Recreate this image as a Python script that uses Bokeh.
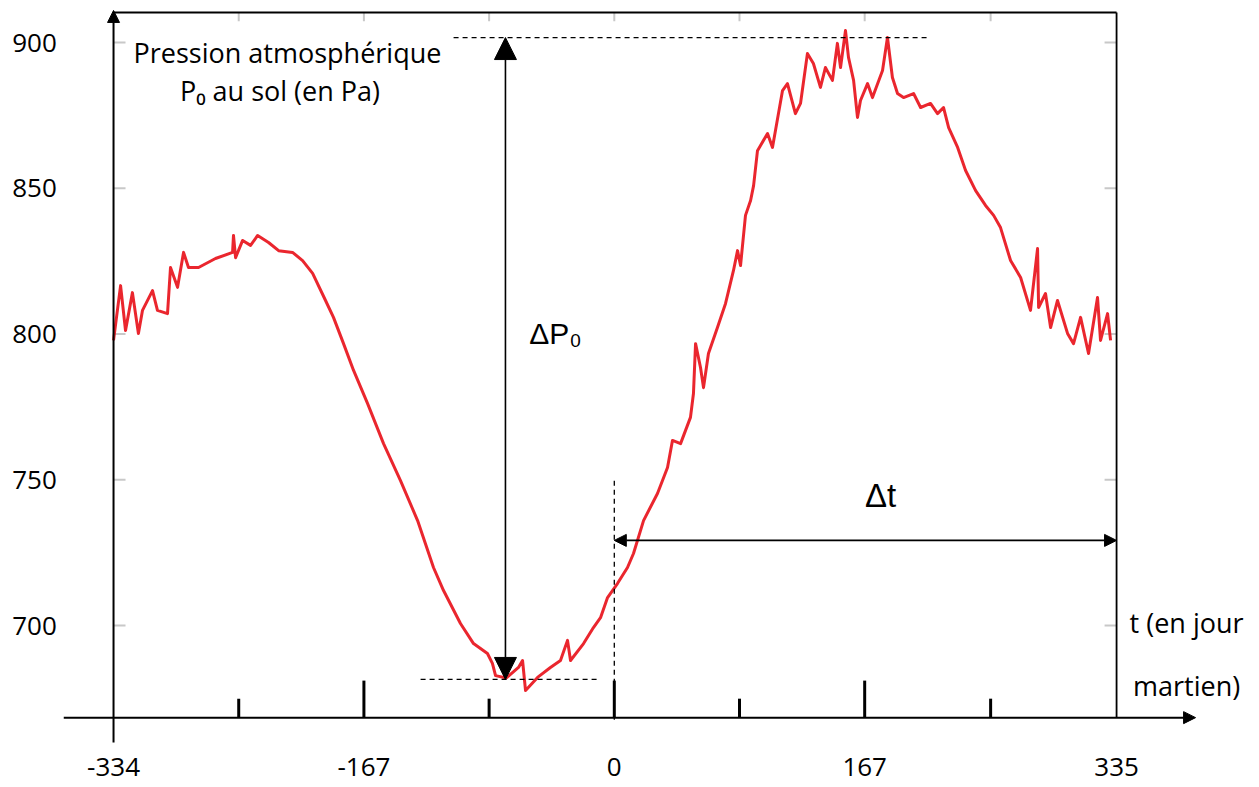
from bokeh.plotting import figure
from bokeh.models import Range1d, Arrow, NormalHead
from bokeh.core.properties import value
from bokeh.embed import file_html
from bokeh.resources import INLINE

# ---------------- data ----------------
t_days = [-334, -329.3, -326, -321.4, -317.4, -314.7, -308, -304.7, -298, -296, -291.3, -287.3, -284, -277.3,
          -266, -254.6, -254, -252.6, -247.9, -242.6, -237.9, -230.6, -223.9, -214.6, -207.9, -201.2, -192.6,
          -187.3, -180.6, -173.9, -164.6, -153.9, -142.6, -131.2, -120.6, -113.9, -102.6, -93.9, -84.6, -81.3,
          -79.2, -72, -63.9, -61.2, -59.2, -51.2, -42.6, -35.9, -31.2, -29.2, -20.5, -13.9, -9.2, -4.5, 2.1,
          8.8, 12.8, 19.5, 28.8, 35.5, 38.8, 44.2, 50.8, 52.8, 54.2, 57.5, 59.5, 62.8, 68.8, 74.2, 79.5, 82.2,
          84.2, 87.5, 90.9, 92.9, 95.5, 102.2, 105.5, 112.2, 115.5, 120.8, 124.2, 128.8, 132.8, 137.5, 140.8,
          145.5, 148.8, 150.9, 154.2, 156.2, 159.6, 162.2, 164.2, 168.9, 172.2, 178.9, 182.2, 185.5, 188.9,
          192.9, 199.6, 204.3, 210.9, 215.6, 219.6, 223.0, 229.0, 234.3, 241.0, 247.6, 253.0, 257.6, 264.3,
          271.0, 277.6, 282.3, 283.0, 287.6, 291.0, 295.6, 302.3, 306.3, 311.0, 316.3, 322.3, 324.3, 329.0,
          331.0]
pressure_pa = [797.8, 816.6, 801.2, 814.2, 800.2, 808.1, 814.9, 808.1, 807.0, 822.8, 816.0, 828.0, 822.8, 822.8,
               825.9, 828.0, 833.8, 826.2, 832.1, 830.4, 833.8, 831.4, 828.6, 828.0, 825.2, 820.8, 811.5,
               805.7, 796.7, 787.5, 776.2, 762.4, 749.7, 736.0, 719.9, 712.0, 700.7, 693.8, 690.4, 687.0,
               682.8, 682.0, 685.6, 688.0, 677.7, 682.2, 685.6, 688.0, 694.9, 688.0, 693.8, 699.3, 702.7, 709.6,
               714.4, 719.9, 724.7, 736.0, 745.3, 754.2, 763.5, 762.4, 771.4, 779.6, 796.7, 788.5, 781.6, 793.3,
               802.2, 810.5, 821.8, 828.6, 823.5, 840.7, 845.8, 850.9, 862.9, 868.8, 864.0, 883.5, 885.9, 875.6,
               879.1, 896.2, 892.8, 884.6, 891.4, 887.0, 899.7, 891.4, 904.1, 894.9, 887.0, 874.3, 880.1, 885.9,
               881.1, 890.4, 901.7, 888.0, 882.5, 881.1, 882.5, 877.7, 879.1, 875.6, 877.7, 870.8, 864.0, 856.1,
               849.2, 844.1, 840.7, 836.5, 825.2, 819.4, 808.1, 829.3, 809.1, 813.9, 802.2, 811.5, 800.2, 796.7,
               805.7, 793.3, 812.5, 797.8, 807.0, 797.8]

x_tick_values = [-334, -167, 0, 167, 335]
x_tick_labels = ["-334", "-167", "0", "167", "335"]
x_major_marks = [-167, 0, 167]
x_minor_marks = [-250.5, -83.5, 83.5, 251]
y_tick_values = [900, 850, 800, 750, 700]
y_tick_labels = ["900", "850", "800", "750", "700"]

p_max = 901.7      # upper dashed level
p_min = 681.5      # lower dashed level
t_start = 0        # start of Δt
t_end = 335        # end of Δt

# ---------------- layout constants ----------------
X0, X1 = -409.39, 424.33
Y0, Y1 = 644.43, 914.41
AXIS_Y = 668.4
LEFT_X = -334
RIGHT_X = 335
TOP_Y = 910.3
FONT = value("Open Sans")
FONT2 = value("Liberation Sans")

p = figure(width=1250, height=787, output_backend="svg", toolbar_location=None,
           x_range=Range1d(X0, X1), y_range=Range1d(Y0, Y1),
           min_border=0, min_border_left=0, min_border_right=0, min_border_top=0, min_border_bottom=0)
p.xaxis.visible = False
p.yaxis.visible = False
p.grid.visible = False
p.outline_line_color = None
p.background_fill_color = "white"
p.border_fill_color = "white"

# faint ticks (scan artefacts of the original frame)
faint = "#c8c8c8"
all_marks = x_minor_marks + x_major_marks
p.segment(x0=all_marks, y0=[TOP_Y] * len(all_marks), x1=all_marks, y1=[TOP_Y - 3.0] * len(all_marks),
          line_color=faint, line_width=2)
p.segment(x0=[LEFT_X] * len(y_tick_values), y0=y_tick_values, x1=[LEFT_X + 8] * len(y_tick_values),
          y1=y_tick_values, line_color=faint, line_width=2)
p.segment(x0=[RIGHT_X - 8] * len(y_tick_values), y0=y_tick_values, x1=[RIGHT_X] * len(y_tick_values),
          y1=y_tick_values, line_color=faint, line_width=2)

# frame (top, right)
p.segment(x0=[LEFT_X, RIGHT_X], y0=[TOP_Y, AXIS_Y], x1=[RIGHT_X, RIGHT_X], y1=[TOP_Y, TOP_Y],
          line_color="black", line_width=1.8)

# curve
p.line(t_days, pressure_pa, line_color="#e8141c", line_width=3, line_alpha=0.92, line_join="round")

# x-axis tick marks
p.segment(x0=x_major_marks, y0=[AXIS_Y] * 3, x1=x_major_marks, y1=[AXIS_Y + 12.7] * 3,
          line_color="black", line_width=3)
p.segment(x0=x_minor_marks, y0=[AXIS_Y] * 4, x1=x_minor_marks, y1=[AXIS_Y + 6.5] * 4,
          line_color="black", line_width=3)

# axes with arrows
p.add_layout(Arrow(x_start=-367.2, y_start=AXIS_Y, x_end=387.7, y_end=AXIS_Y, line_width=2,
                   line_color="black", end=NormalHead(size=12, fill_color="black", line_color="black")))
p.add_layout(Arrow(x_start=LEFT_X, y_start=659.9, x_end=LEFT_X, y_end=911.0, line_width=2,
                   line_color="black", end=NormalHead(size=12, fill_color="black", line_color="black")))

# dashed helper lines
p.segment(x0=[-107.2, -129.2, t_start], y0=[p_max, p_min, 749.7], x1=[209.5, -9.2, t_start],
          y1=[p_max, p_min, 666.4], line_color="black", line_width=1.3, line_dash="5 4")

# ΔP0 arrow
p.add_layout(Arrow(x_start=-72.6, y_start=p_min, x_end=-72.6, y_end=p_max, line_width=1.6, line_color="black",
                   start=NormalHead(size=22, fill_color="black", line_color="black"),
                   end=NormalHead(size=22, fill_color="black", line_color="black")))
# Δt arrow
p.add_layout(Arrow(x_start=t_start, y_start=729.2, x_end=t_end, y_end=729.2, line_width=1.6, line_color="black",
                   start=NormalHead(size=12, fill_color="black", line_color="black"),
                   end=NormalHead(size=12, fill_color="black", line_color="black")))

# tick labels
p.text(x=x_tick_values, y=[651.3] * len(x_tick_values), text=x_tick_labels, text_font=FONT,
       text_font_size="26px", text_align="center", text_baseline="middle", text_color="black")
p.text(x=[-386.7] * len(y_tick_values), y=y_tick_values, text=y_tick_labels, text_font=FONT,
       text_font_size="26px", text_align="center", text_baseline="middle", text_color="black")

# annotations
p.text(x=[-218.0, -223.0], y=[896.6, 883.5], text=["Pression atmosphérique", "P₀ au sol (en Pa)"],
       text_font=FONT, text_font_size="27px", text_align="center", text_baseline="middle", text_color="black")
p.text(x=[381.7, 381.7], y=[701.0, 679.4], text=["t (en jour", "martien)"],
       text_font=FONT, text_font_size="27px", text_align="center", text_baseline="middle", text_color="black")
p.text(x=[-39.2], y=[800.2], text=["ΔP₀"], text_font=FONT2, text_font_size="30px",
       text_align="center", text_baseline="middle", text_color="black")
p.text(x=[177.6], y=[744.6], text=["Δt"], text_font=FONT2, text_font_size="33px",
       text_align="center", text_baseline="middle", text_color="black")

open("out.html", "w").write(file_html(p, INLINE))
